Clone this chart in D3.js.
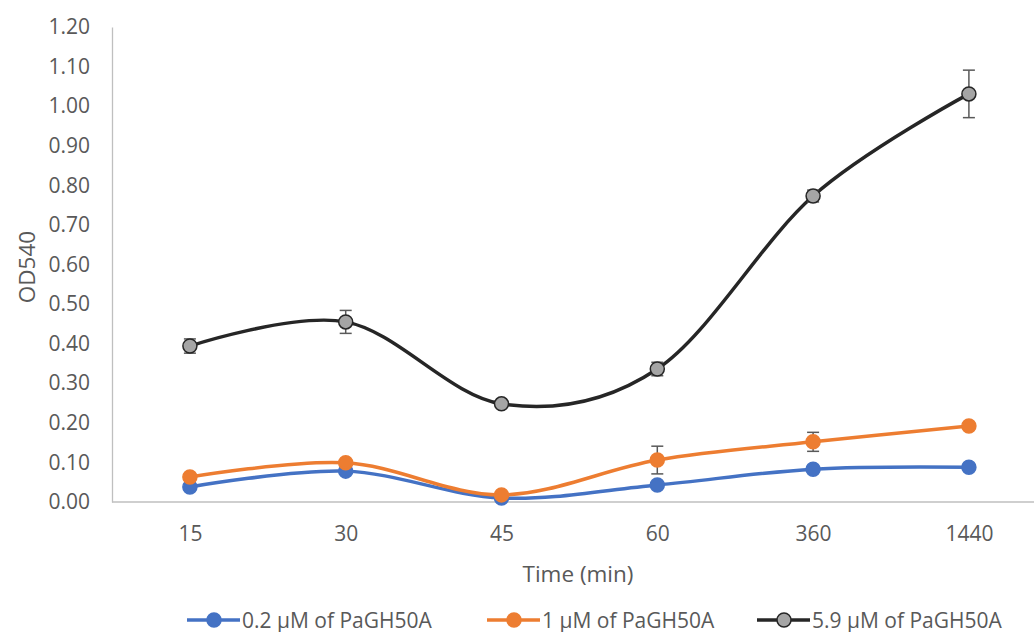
<!DOCTYPE html>
<html lang="en">
<head>
<meta charset="UTF-8">
<title>OD540 over time</title>
<script src="https://d3js.org/d3.v7.min.js"></script>
<style>
  body { margin: 0; background: #fff; }
  text { font-family: "Open Sans", "Liberation Sans", sans-serif; fill: #595959; }
</style>
</head>
<body>
<div id="chart"></div>
<script>
// categories on the x axis
const times = ["15", "30", "45", "60", "360", "1440"];
const yTicks = [0, 0.1, 0.2, 0.3, 0.4, 0.5, 0.6, 0.7, 0.8, 0.9, 1.0, 1.1, 1.2];

// series values
const low = [0.038, 0.078, 0.010, 0.043, 0.083, 0.088];
const mid = [0.063, 0.099, 0.018, 0.106, 0.152, 0.192];
const high = [0.394, 0.455, 0.248, 0.336, 0.773, 1.031];

// error bars (± values), 0 = not shown
const lowErr = [0, 0, 0, 0, 0, 0];
const midErr = [0, 0, 0, 0.035, 0.024, 0];
const highErr = [0.018, 0.029, 0, 0.017, 0.015, 0.06];

const series = [
  { name: "0.2 µM of PaGH50A", values: low, err: lowErr, line: "#4472C4", fill: "#4472C4", stroke: "#4472C4" },
  { name: "1 µM of PaGH50A", values: mid, err: midErr, line: "#ED7D31", fill: "#ED7D31", stroke: "#ED7D31" },
  { name: "5.9 µM of PaGH50A", values: high, err: highErr, line: "#262626", fill: "#A5A5A5", stroke: "#262626" }
];

const w = 1034, h = 632;
const padLeft = 112, padTop = 27, axisY = 502;
const band = 155.8;

const svg = d3.select("#chart").append("svg")
  .attr("width", w).attr("height", h);

const x = d3.scalePoint()
  .domain(times)
  .range([padLeft + band / 2, padLeft + band * 5.5]);

const y = d3.scaleLinear().domain([0, 1.2]).range([axisY, padTop]);

// axes
const yAxis = d3.axisLeft(y).tickValues(yTicks).tickFormat(d3.format(".2f")).tickSize(0).tickPadding(22);
const gy = svg.append("g").attr("transform", "translate(" + padLeft + ",0)").call(yAxis);
gy.select(".domain").attr("stroke", "#bfbfbf").attr("stroke-width", 1.3);
gy.selectAll("text").style("font-size", "21px").attr("fill", "#595959");

const xAxis = d3.axisBottom(x).tickSize(0).tickPadding(24);
const gx = svg.append("g").attr("transform", "translate(0," + axisY + ")").call(xAxis);
gx.select(".domain").attr("d", "M" + padLeft + ",0H" + w).attr("stroke", "#bfbfbf").attr("stroke-width", 1.3);
gx.selectAll("text").style("font-size", "21px").attr("fill", "#595959");

// titles
svg.append("text").attr("x", 578).attr("y", 582).attr("text-anchor", "middle")
  .style("font-size", "22.5px").text("Time (min)");
svg.append("text").attr("transform", "translate(35,267) rotate(-90)").attr("text-anchor", "middle")
  .style("font-size", "22.5px").text("OD540");

const line = d3.line()
  .x((d, i) => x(times[i]))
  .y(d => y(d))
  .curve(d3.curveCatmullRom.alpha(0));

series.forEach(s => {
  svg.append("path").datum(s.values)
    .attr("d", line)
    .attr("fill", "none")
    .attr("stroke", s.line)
    .attr("stroke-width", 3.5);
});

// error bars
series.forEach(s => {
  const g = svg.append("g").attr("stroke", "#595959").attr("stroke-width", 1.5);
  s.values.forEach((v, i) => {
    const e = s.err[i];
    if (!e) return;
    const cx = x(times[i]);
    g.append("line").attr("x1", cx).attr("x2", cx).attr("y1", y(v + e)).attr("y2", y(v - e));
    g.append("line").attr("x1", cx - 6).attr("x2", cx + 6).attr("y1", y(v + e)).attr("y2", y(v + e));
    g.append("line").attr("x1", cx - 6).attr("x2", cx + 6).attr("y1", y(v - e)).attr("y2", y(v - e));
  });
});

// markers
series.forEach(s => {
  svg.append("g").selectAll("circle")
    .data(s.values)
    .enter()
    .append("circle")
    .attr("cx", (d, i) => x(times[i]))
    .attr("cy", d => y(d))
    .attr("r", 7)
    .attr("fill", s.fill)
    .attr("stroke", s.stroke)
    .attr("stroke-width", 1.5);
});

// legend
const legendX = [187, 487, 757];
series.forEach((s, i) => {
  const g = svg.append("g").attr("transform", "translate(" + legendX[i] + ",620)");
  g.append("line").attr("x1", 0).attr("x2", 53).attr("y1", 0).attr("y2", 0)
    .attr("stroke", s.line).attr("stroke-width", 3.5);
  g.append("circle").attr("cx", 27).attr("cy", 0).attr("r", 7)
    .attr("fill", s.fill).attr("stroke", s.stroke).attr("stroke-width", 1.5);
  g.append("text").attr("x", 55).attr("y", 7.5).style("font-size", "21px").text(s.name);
});
</script>
</body>
</html>
